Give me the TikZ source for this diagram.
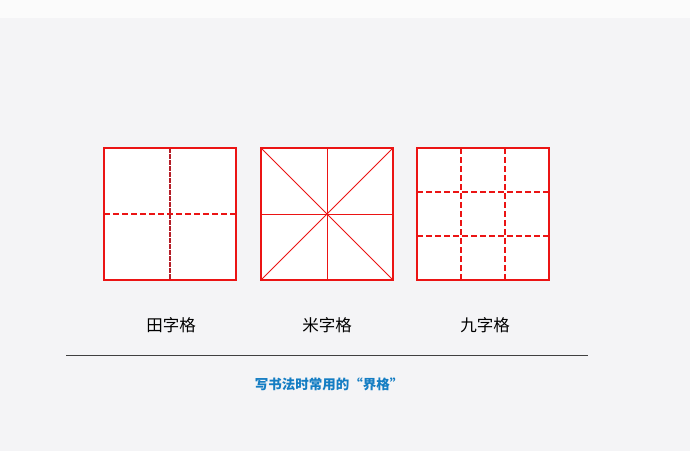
\documentclass[tikz,border=0pt]{standalone}
\usepackage{fontspec}
\newfontfamily\cjk{Noto Sans CJK SC}
\definecolor{bg}{RGB}{244,244,246}
\definecolor{gred}{RGB}{235,20,20}
\definecolor{dred}{RGB}{180,30,40}
\definecolor{capblue}{RGB}{20,125,195}
\tikzset{
  gridbox/.style={draw=gred, line width=2.6pt},
  dashln/.style={draw=gred, line width=1.2pt, dash pattern=on 6pt off 3pt},
  dashdark/.style={draw=dred, line width=1.7pt, dash pattern=on 4.5pt off 1.5pt},
  thinln/.style={draw=gred, line width=1pt},
  lbl/.style={font=\cjk\fontsize{16.5}{17}\selectfont, text=black, inner sep=0pt},
  captext/.style={font=\cjk\bfseries\fontsize{13.5}{14}\selectfont, text=capblue, inner sep=0pt}
}
\begin{document}
\begin{tikzpicture}[x=1pt,y=-1pt]
\fill[bg] (0,0) rectangle (690,451);
\fill[white!60!bg] (0,0) rectangle (690,18);
\useasboundingbox (0,0) rectangle (690,451);
% box 1: tian
\coordinate (a1) at (104,148); \coordinate (a2) at (236,280);
\fill[white] (a1) rectangle (a2);
\draw[dashln] (104,214) -- (236,214);
\draw[dashdark] (170,148) -- (170,280);
\draw[gridbox] (a1) rectangle (a2);
% box 2: mi
\coordinate (b1) at (261,148); \coordinate (b2) at (393,280);
\fill[white] (b1) rectangle (b2);
\draw[thinln] (261,148) -- (393,280);
\draw[thinln] (393,148) -- (261,280);
\draw[thinln] (327,148) -- (327,280);
\draw[thinln] (261,214) -- (393,214);
\draw[gridbox] (b1) rectangle (b2);
% box 3: jiu
\coordinate (c1) at (417,148); \coordinate (c2) at (549,280);
\fill[white] (c1) rectangle (c2);
\draw[dashln] (461,148) -- (461,280);
\draw[dashln] (505,148) -- (505,280);
\draw[dashln] (417,192) -- (549,192);
\draw[dashln] (417,236) -- (549,236);
\draw[gridbox] (c1) rectangle (c2);
% labels
\node[lbl] (l1) at (171,325) {田字格};
\node[lbl] (l2) at (327,325) {米字格};
\node[lbl] (l3) at (485,325) {九字格};
\coordinate (r1) at (66,355); \coordinate (r2) at (588,355);
\draw[draw=black!75, line width=1pt] (r1) -- (r2);
\node[captext] (cp) at (329,384) {写书法时常用的“界格”};
\end{tikzpicture}
\end{document}
